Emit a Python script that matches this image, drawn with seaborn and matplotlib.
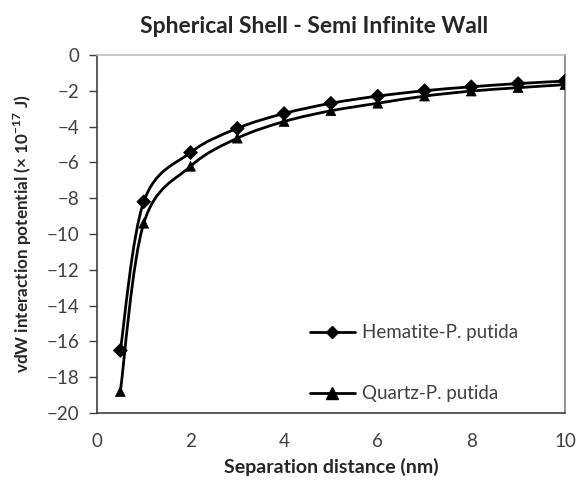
import numpy as np
import pandas as pd
import seaborn as sns
import matplotlib
matplotlib.use('Agg')
import matplotlib.pyplot as plt
from matplotlib.path import Path
from matplotlib.patches import PathPatch
from matplotlib.lines import Line2D

distance = [0.5, 1, 2, 3, 4, 5, 6, 7, 8, 9, 10]
hematite = [-16.5, -8.2, -5.45, -4.1, -3.27, -2.7, -2.3, -2.0, -1.78, -1.6, -1.46]
quartz = [-18.8, -9.4, -6.22, -4.65, -3.72, -3.12, -2.7, -2.3, -2.02, -1.83, -1.66]
series_names = ['Hematite-P. putida', 'Quartz-P. putida']

sns.set_style('white')
plt.rcParams['font.family'] = ['Lato', 'DejaVu Sans']
plt.rcParams['mathtext.fontset'] = 'custom'
plt.rcParams['mathtext.rm'] = 'Lato'
plt.rcParams['mathtext.bf'] = 'Lato:bold'


def smooth_path(xs, ys):
    # Excel-style smoothed line as cubic bezier segments
    pts = np.column_stack([xs, ys])
    n = len(pts)
    verts = [pts[0]]
    codes = [Path.MOVETO]
    for i in range(n - 1):
        p0 = pts[i - 1] if i > 0 else pts[i]
        p1 = pts[i]
        p2 = pts[i + 1]
        p3 = pts[i + 2] if i + 2 < n else pts[i + 1]
        c1 = p1 + (p2 - p0) / 6
        c2 = p2 - (p3 - p1) / 6
        verts += [c1, c2, p2]
        codes += [Path.CURVE4] * 3
    return Path(verts, codes)


df = pd.DataFrame({'distance': distance * 2,
                   'potential': hematite + quartz,
                   'series': [series_names[0]] * len(distance) + [series_names[1]] * len(distance)})

fig = plt.figure(figsize=(5.77, 4.86), dpi=100)
ax = fig.add_axes([0.168, 0.150, 0.811, 0.737])

for ys in (hematite, quartz):
    ax.add_patch(PathPatch(smooth_path(distance, ys), facecolor='none',
                           edgecolor='black', lw=2.0, zorder=2))

sns.scatterplot(data=df, x='distance', y='potential', style='series',
                markers={series_names[0]: 'D', series_names[1]: '^'},
                color='black', s=50, edgecolor='black', linewidth=0.5,
                legend=False, ax=ax, zorder=3)

ax.set_xlim(0, 10)
ax.set_ylim(-20, 0)
ax.set_xticks(np.arange(0, 11, 2))
ax.set_yticks(np.arange(-20, 1, 2))
ax.tick_params(axis='y', direction='out', length=6, width=1, color='#404040',
               labelsize=13.5, pad=7, left=True)
ax.tick_params(axis='x', length=0, labelsize=13.5, pad=14)
for lbl in ax.get_xticklabels() + ax.get_yticklabels():
    lbl.set_color('#404040')

ax.spines['left'].set_color('#404040')
ax.spines['bottom'].set_color('#404040')
ax.spines['top'].set_color('#bfbfbf')
ax.spines['right'].set_color('#7f7f7f')
for s in ax.spines.values():
    s.set_linewidth(1.2)

ax.set_title('Spherical Shell - Semi Infinite Wall', fontsize=16.5,
             fontweight='bold', pad=16, x=0.465)
ax.set_xlabel('Separation distance (nm)', fontsize=14, fontweight='bold', labelpad=6)
ax.set_ylabel(r'vdW interaction potential (× 10$^{\mathbf{-17}}$ J)', fontsize=12.3,
              fontweight='bold', labelpad=9)

handles = [Line2D([], [], color='black', lw=2, marker='D', markersize=6),
           Line2D([], [], color='black', lw=2, marker='^', markersize=8)]
ax.legend(handles, series_names, loc='upper left', bbox_to_anchor=(0.455, 0.248),
          frameon=False, fontsize=13.5, handlelength=2.4, handletextpad=0.37,
          labelspacing=2.35, borderpad=0, borderaxespad=0, labelcolor='#404040')

fig.savefig('out.png', dpi=100)
